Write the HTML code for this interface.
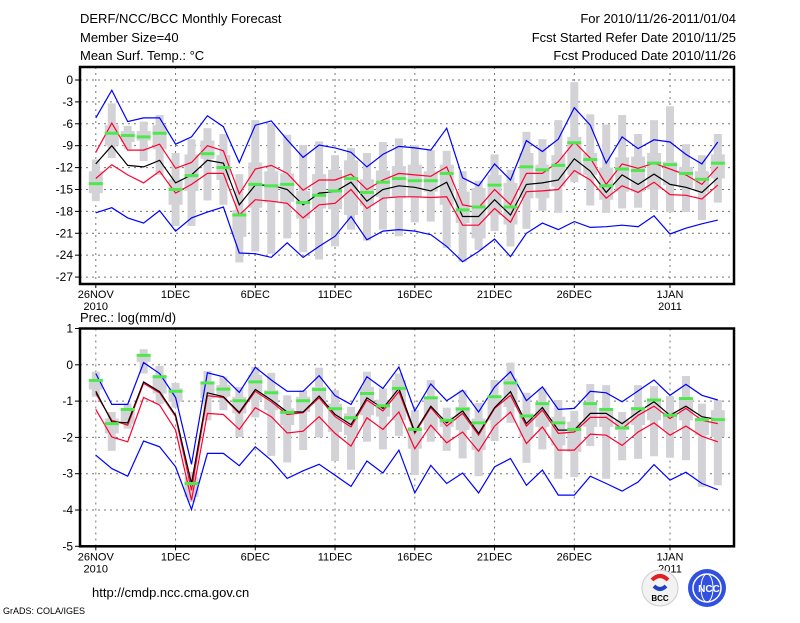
<!DOCTYPE html>
<html><head><meta charset="utf-8"><style>
body{margin:0;background:#fff;width:800px;height:618px;overflow:hidden}
svg text{font-family:"Liberation Sans",sans-serif;fill:#000}
</style></head><body>
<svg id="chart" width="800" height="618" viewBox="0 0 800 618" xmlns="http://www.w3.org/2000/svg">
<rect width="800" height="618" fill="#fff"/>
<g font-size="13">
<text x="80" y="23">DERF/NCC/BCC Monthly Forecast</text>
<text x="80" y="42">Member Size=40</text>
<text x="80" y="60">Mean Surf. Temp.: °C</text>
<text x="736" y="23" text-anchor="end">For 2010/11/26-2011/01/04</text>
<text x="736" y="42" text-anchor="end">Fcst Started Refer Date 2010/11/25</text>
<text x="736" y="60" text-anchor="end">Fcst Produced Date 2010/11/26</text>
</g>
<text x="80" y="322" font-size="13">Prec.: log(mm/d)</text>
<g id="top"></g>
<g id="bot"></g>
<text x="92" y="597" font-size="13">http://cmdp.ncc.cma.gov.cn</text>
<text x="3" y="614" font-size="9">GrADS: COLA/IGES</text>
<g>
<circle cx="660" cy="588" r="18" fill="#f2f2f2" stroke="#ccc"/>
<path d="M652 580 q8 -8 16 0" stroke="#e02020" stroke-width="4" fill="none"/>
<path d="M654 586 q6 6 12 0" stroke="#2040c0" stroke-width="4" fill="none"/>
<text x="660" y="601" font-size="8" text-anchor="middle" font-weight="bold">BCC</text>
</g>
<g>
<circle cx="707" cy="588" r="19" fill="#3050e0"/>
<circle cx="707" cy="588" r="14" fill="none" stroke="#fff" stroke-width="1.5"/>
<ellipse cx="707" cy="588" rx="6" ry="14" fill="none" stroke="#fff" stroke-width="1"/>
<text x="709" y="592" font-size="10" text-anchor="middle" font-weight="bold" style="fill:#fff">NCC</text>
</g>
</svg>
<script>
// Temperature data (°C)
const tMax=[-5.2,-1.4,-5.7,-5.2,-5.2,-8.8,-7.8,-4.9,-6.4,-11.3,-6.2,-5.6,-8.2,-10.6,-8.9,-9.3,-9.9,-11.9,-10.2,-9.1,-9.3,-9.6,-6.6,-13.4,-14.5,-11.5,-13.7,-8.3,-9.8,-8.1,-3.8,-6.2,-11.4,-7.8,-9.4,-8.2,-8.5,-10.2,-11.5,-8.5];
const tMin=[-18.2,-17.5,-18.9,-19.6,-17.9,-20.7,-18.9,-18.1,-17.4,-23.7,-23.8,-24.3,-22.3,-24.3,-22.8,-21.4,-18.7,-21.9,-20.7,-20.5,-20.7,-21.2,-22.8,-24.9,-23.5,-21.8,-24.2,-21.0,-19.6,-20.5,-19.4,-20.2,-20.1,-19.9,-20.1,-18.6,-21.1,-20.3,-19.7,-19.2];
const tUp=[-9.9,-5.9,-9.6,-9.6,-8.8,-12.1,-11.3,-9.0,-9.7,-15.6,-12.2,-11.7,-12.8,-15.1,-13.7,-13.7,-12.9,-15.0,-13.7,-12.8,-13.0,-13.2,-11.9,-17.1,-17.5,-15.0,-17.1,-12.8,-12.8,-11.2,-8.5,-10.7,-14.3,-11.5,-12.1,-11.4,-12.2,-13.0,-14.3,-11.9];
const tMean=[-11.5,-9.0,-11.7,-11.9,-11.0,-14.1,-13.0,-11.0,-11.4,-17.1,-14.4,-14.4,-15.0,-17.1,-15.5,-15.3,-14.0,-16.6,-15.0,-14.5,-14.7,-15.2,-14.0,-18.7,-18.7,-16.4,-18.5,-14.3,-14.1,-13.7,-10.8,-12.5,-15.4,-13.0,-14.3,-12.9,-14.3,-14.7,-15.4,-13.4];
const tLow=[-13.5,-11.6,-13.0,-14.1,-12.5,-15.5,-14.3,-12.8,-12.8,-18.5,-16.4,-16.6,-16.9,-18.9,-17.1,-16.9,-15.0,-17.6,-16.2,-16.0,-16.0,-16.1,-16.0,-19.9,-19.9,-17.6,-19.5,-15.3,-15.2,-15.0,-12.4,-13.7,-16.2,-14.5,-15.4,-14.0,-15.7,-15.8,-16.3,-14.4];
const tObs=[-14.2,-7.3,-7.6,-7.8,-7.3,-15.0,-13.1,-10.1,-12.0,-18.5,-14.3,-14.5,-14.3,-16.8,-15.8,-15.2,-13.5,-15.4,-14.0,-13.5,-13.8,-13.8,-12.8,-17.8,-17.4,-14.4,-17.4,-11.9,-12.3,-11.7,-8.6,-10.9,-14.5,-12.2,-12.4,-11.4,-11.6,-12.8,-13.6,-11.4];
const tBoxOutTop=[-10.9,-3.2,-6.3,-5.7,-4.8,-10,-8.1,-6.6,-7.4,-12.9,-5.5,-5.9,-7.5,-8.9,-8.4,-10.3,-9.3,-10,-8.5,-8,-8.9,-9.6,-9.7,-12.5,-13.8,-10.2,-12.3,-7.1,-8.1,-5.5,-0.3,-4.7,-6.1,-4.8,-7.4,-5.5,-3.6,-8.8,-10.3,-7.4];
const tBoxOutBot=[-16.6,-10.7,-9.5,-11.1,-13,-20,-20,-16.5,-17.1,-25,-23.5,-23.8,-21.7,-23.6,-24.6,-22.8,-20.5,-22,-20.5,-21.4,-19.5,-19.4,-23.0,-24.9,-23.3,-20.7,-22.8,-20.4,-17.9,-18.2,-14.0,-17.2,-18.2,-17.6,-17.5,-17.8,-18.1,-18.1,-19.2,-16.8];
const tBoxInTop=[-12.5,-6.2,-7,-7,-6.2,-13.6,-10.2,-8.3,-10.3,-17.8,-11.3,-12.5,-12.8,-15.2,-12.9,-12.3,-11,-13.6,-12.4,-11.8,-11.6,-12.5,-11.6,-15.3,-14.8,-13.0,-14.1,-10.0,-11.6,-10.3,-7.8,-10.0,-12.0,-10.6,-10.5,-10.0,-11.2,-11.9,-12.5,-10.2];
const tBoxInBot=[-15.5,-9.0,-8.5,-8.3,-9.5,-17.1,-15.2,-10.8,-13.7,-21.5,-17.5,-16.8,-16.7,-19,-17.6,-17.7,-18.5,-17.2,-16,-16.2,-16.0,-15.3,-17.1,-19.6,-21.7,-18.5,-19.8,-16.2,-16.2,-14.6,-13.0,-13.0,-16.4,-15.3,-15.3,-15.0,-14.4,-14.8,-15.3,-13.5];
const tTicks=[0,-3,-6,-9,-12,-15,-18,-21,-24,-27];
// Precipitation data log(mm/d)
const pMax=[-0.24,-1.09,-1.09,0.06,-0.24,-0.90,-2.74,-0.22,-0.33,-0.76,-0.07,-0.42,-0.73,-0.73,-0.30,-0.85,-1.09,-0.33,-0.65,-0.06,-1.27,-0.53,-0.99,-0.70,-1.30,-0.61,-0.19,-0.99,-0.61,-1.23,-1.20,-0.73,-0.77,-1.02,-0.72,-0.42,-0.84,-0.54,-0.84,-0.97];
const pMin=[-2.49,-2.86,-3.07,-2.10,-2.26,-2.81,-3.99,-2.44,-2.44,-2.78,-2.26,-2.63,-3.13,-2.92,-2.74,-3.04,-3.35,-2.65,-2.98,-2.35,-3.53,-2.77,-3.27,-2.98,-3.53,-2.81,-2.58,-3.32,-2.90,-3.59,-3.59,-3.07,-3.27,-3.48,-3.23,-2.75,-3.18,-2.96,-3.27,-3.44];
const pUp=[-0.79,-1.53,-1.66,-0.51,-0.77,-1.43,-3.46,-0.85,-0.90,-1.34,-0.73,-1.02,-1.37,-1.32,-0.91,-1.43,-1.71,-0.97,-1.27,-0.74,-1.89,-1.18,-1.69,-1.34,-1.94,-1.20,-0.84,-1.69,-1.25,-1.89,-1.85,-1.45,-1.45,-1.76,-1.39,-1.14,-1.48,-1.20,-1.53,-1.62];
const pMean=[-0.73,-1.57,-1.60,-0.47,-0.74,-1.39,-3.27,-0.77,-0.88,-1.31,-0.68,-0.97,-1.30,-1.30,-0.86,-1.37,-1.65,-0.91,-1.20,-0.65,-1.85,-1.14,-1.60,-1.27,-1.89,-1.18,-0.74,-1.62,-1.18,-1.80,-1.80,-1.34,-1.34,-1.62,-1.30,-1.02,-1.39,-1.14,-1.43,-1.51];
const pLow=[-1.23,-1.99,-2.12,-0.90,-1.11,-1.80,-3.73,-1.34,-1.37,-1.78,-1.18,-1.43,-1.88,-1.83,-1.43,-1.89,-2.24,-1.46,-1.78,-1.30,-2.31,-1.66,-2.15,-1.85,-2.38,-1.69,-1.30,-2.17,-1.71,-2.35,-2.35,-1.91,-1.94,-2.22,-1.85,-1.60,-1.94,-1.69,-1.97,-2.12];
const pObs=[-0.43,-1.62,-1.23,0.26,-0.33,-0.73,-3.27,-0.50,-0.67,-0.99,-0.47,-0.77,-1.31,-0.99,-0.68,-1.21,-1.46,-0.79,-1.13,-0.65,-1.78,-0.91,-1.53,-1.22,-1.60,-0.88,-0.50,-1.41,-1.07,-1.60,-1.78,-1.07,-1.23,-1.74,-1.21,-0.97,-1.39,-0.93,-1.51,-1.51];
const pBoxOutTop=[-0.19,-1.30,-1.07,0.43,-0.03,-0.50,-2.95,-0.17,-0.33,-0.61,-0.06,-0.22,-0.84,-0.70,-0.08,-0.70,-1.16,-0.19,-0.65,-0.24,-1.25,-0.42,-1.18,-0.70,-1.05,-0.42,0.06,-0.77,-0.65,-0.97,-1.27,-0.53,-0.56,-1.30,-0.56,-0.59,-0.86,-0.31,-1.07,-0.97];
const pBoxOutBot=[-0.88,-2.37,-1.76,-0.24,-1.08,-1.18,-3.78,-1.53,-1.25,-1.99,-1.45,-2.51,-2.69,-2.35,-2.00,-2.65,-2.89,-2.12,-2.33,-1.96,-3.04,-2.12,-2.37,-2.58,-3.07,-2.10,-1.60,-2.70,-2.33,-3.14,-3.09,-2.24,-3.14,-2.63,-2.59,-2.52,-2.56,-2.63,-3.36,-3.32];
const pBoxInTop=[-0.42,-1.48,-1.20,0.27,-0.28,-0.65,-3.09,-0.47,-0.56,-0.88,-0.28,-0.70,-1.20,-0.88,-0.61,-1.07,-1.34,-0.61,-0.96,-0.42,-1.71,-0.88,-1.43,-1.16,-1.48,-0.93,-0.38,-1.34,-1.11,-1.43,-1.57,-1.07,-1.25,-1.53,-1.16,-0.97,-1.30,-0.93,-1.53,-1.25];
const pBoxInBot=[-0.68,-1.89,-1.62,0.08,-0.79,-1.02,-3.64,-0.93,-0.88,-1.34,-0.97,-1.25,-1.66,-1.30,-1.07,-1.85,-1.94,-1.39,-1.43,-1.53,-2.31,-1.80,-1.71,-1.80,-2.35,-1.53,-1.16,-1.99,-1.71,-2.22,-2.40,-1.71,-1.71,-1.80,-1.66,-1.53,-1.80,-1.53,-1.94,-1.99];
const pTicks=[1,0,-1,-2,-3,-4,-5];
const dateLabels=["26NOV","1DEC","6DEC","11DEC","16DEC","21DEC","26DEC","1JAN"];
const dateDays=[0,5,10,15,20,25,30,36];
const yearLabels=["2010","","","","","","","2011"];

const NS="http://www.w3.org/2000/svg";
function mk(parent,tag,attrs){const e=document.createElementNS(NS,tag);for(const k in attrs)e.setAttribute(k,attrs[k]);parent.appendChild(e);return e;}
const X0=80,X1=734;
function xd(d){return 95.8+15.95*d;}

function panel(g,top,bot,vTop,vBot,ticks,ser,pfx){
  const y=v=>top+(vTop-v)/(vTop-vBot)*(bot-top);
  const wrap=pfx==='t'?1:1;
  // grid
  ticks.forEach(t=>{
    const yy=y(t);
    if(t!==vTop&&t!==vBot){const l=mk(g,'line',{x1:X0,x2:X1,y1:yy,y2:yy,stroke:'#777','stroke-dasharray':'2,4','stroke-width':1});
    
    }
    mk(g,'line',{x1:X0-5,x2:X0,y1:yy,y2:yy,stroke:'#000','stroke-width':1});
    const tx=mk(g,'text',{x:X0-7,y:yy+4,'font-size':12,'text-anchor':'end'});
    tx.textContent=(t<0?'-':'')+Math.abs(t);
    
    
  });
  dateDays.forEach((d,i)=>{
    const xx=xd(d);
    const l=mk(g,'line',{x1:xx,x2:xx,y1:top,y2:bot,stroke:'#777','stroke-dasharray':'2,4','stroke-width':1});
    
    
    mk(g,'line',{x1:xx,x2:xx,y1:bot,y2:bot+4,stroke:'#000'});
    const tx=mk(g,'text',{x:xx,y:bot+14,'font-size':11,'text-anchor':'middle'});
    tx.textContent=dateLabels[i];
    
    
    if(yearLabels[i]){const t2=mk(g,'text',{x:xx,y:bot+26,'font-size':11,'text-anchor':'middle'});t2.textContent=yearLabels[i];
    
    }
  });
  // boxes
  for(let d=0;d<ser.obs.length;d++){
    const xx=xd(d);
    const o=mk(g,'rect',{x:xx-4,y:y(ser.oT[d]),width:8,height:Math.max(1,y(ser.oB[d])-y(ser.oT[d])),fill:'#d3d3d7'});
    
    
    const b=mk(g,'rect',{x:xx-7,y:y(ser.iT[d]),width:14,height:Math.max(1,y(ser.iB[d])-y(ser.iT[d])),fill:'#d3d3d7'});
    
    
  }
  const line=(arr,col,name)=>{const p=mk(g,'polyline',{points:arr.map((v,d)=>xd(d).toFixed(1)+','+y(v).toFixed(1)).join(' '),fill:'none',stroke:col,'stroke-width':1.2});
    
    };
  line(ser.max,'#0000ff','ensemble-max-line');
  line(ser.min,'#0000ff','ensemble-min-line');
  line(ser.up,'#ff0030','upper-std-line');
  line(ser.low,'#ff0030','lower-std-line');
  line(ser.mean,'#000','ensemble-mean-line');
  for(let d=0;d<ser.obs.length;d++){
    const r=mk(g,'rect',{x:xd(d)-7,y:y(ser.obs[d])-1.5,width:14,height:3,fill:'#4ee84e'});
    
    
  }
  const fr=mk(g,'rect',{x:X0,y:top,width:X1-X0,height:bot-top,fill:'none',stroke:'#000','stroke-width':2.5});
  
  
}
panel(document.getElementById('top'),67,284,1.78,-27.95,tTicks,{max:tMax,min:tMin,up:tUp,mean:tMean,low:tLow,obs:tObs,oT:tBoxOutTop,oB:tBoxOutBot,iT:tBoxInTop,iB:tBoxInBot},'t');
panel(document.getElementById('bot'),328.5,546.3,1,-5,pTicks,{max:pMax,min:pMin,up:pUp,mean:pMean,low:pLow,obs:pObs,oT:pBoxOutTop,oB:pBoxOutBot,iT:pBoxInTop,iB:pBoxInBot},'p');
</script>
</body></html>
